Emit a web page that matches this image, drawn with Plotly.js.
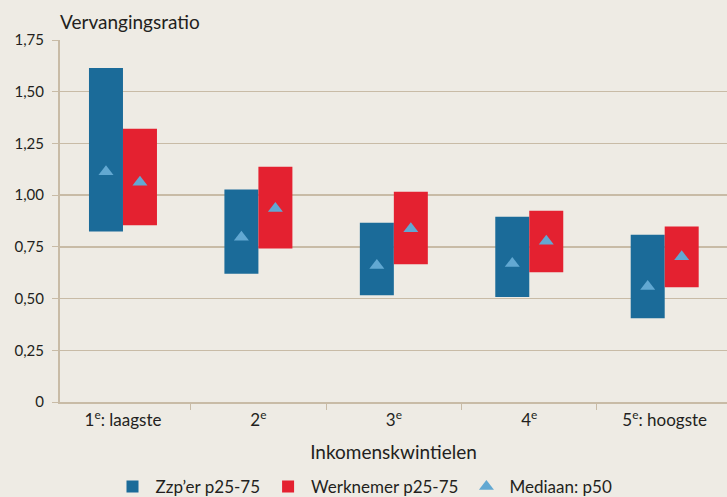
<!DOCTYPE html>
<html><head><meta charset="utf-8">
<script src="https://cdn.plot.ly/plotly-3.0.1.min.js"></script>
<style>html,body{margin:0;padding:0;background:#eeebe4;}</style>
</head><body>
<div id="chart" style="width:727px;height:497px;"></div>
<script>
const categories = ["1<sup>e</sup>: laagste", "2<sup>e</sup>", "3<sup>e</sup>", "4<sup>e</sup>", "5<sup>e</sup>: hoogste"];
const zzpP25 = [0.824, 0.62, 0.516, 0.507, 0.405];
const zzpP75 = [1.615, 1.027, 0.867, 0.896, 0.809];
const zzpP50 = [1.113, 0.796, 0.66, 0.669, 0.558];
const wnP25 = [0.854, 0.742, 0.666, 0.627, 0.555];
const wnP75 = [1.321, 1.137, 1.017, 0.925, 0.848];
const wnP50 = [1.062, 0.936, 0.838, 0.777, 0.702];
const yTickVals = [0, 0.25, 0.5, 0.75, 1, 1.25, 1.5, 1.75];
const yTickText = ["0", "0,25", "0,50", "0,75", "1,00", "1,25", "1,50", "1,75"];

const blue = "#1b6b99", red = "#e42130", tri = "#62a8d2";
const font = "Lato, 'Open Sans', sans-serif";

const traces = [
  {type: "bar", name: "Zzp’er p25-75", x: categories, base: zzpP25,
   y: zzpP75.map((v, i) => v - zzpP25[i]), marker: {color: blue}, offsetgroup: "a"},
  {type: "bar", name: "Werknemer p25-75", x: categories, base: wnP25,
   y: wnP75.map((v, i) => v - wnP25[i]), marker: {color: red}, offsetgroup: "b"},
  {type: "scatter", mode: "markers", name: "Mediaan: p50", x: categories, y: zzpP50,
   offsetgroup: "a", marker: {symbol: "triangle-up", size: 13, color: tri}},
  {type: "scatter", mode: "markers", name: "Mediaan: p50", x: categories, y: wnP50, showlegend: false,
   offsetgroup: "b", marker: {symbol: "triangle-up", size: 13, color: tri}}
];

const layout = {
  width: 727, height: 497,
  paper_bgcolor: "#eeebe4", plot_bgcolor: "#eeebe4",
  font: {family: font, size: 16, color: "#231f20"},
  margin: {l: 60, r: 0, t: 40, b: 95},
  barmode: "group", bargap: 0.498, bargroupgap: 0,
  scattermode: "group", scattergap: 0.498,
  showlegend: true,
  legend: {orientation: "h", x: 0.5, xanchor: "center", xref: "container",
           y: 0.02, yanchor: "middle", yref: "container",
           font: {size: 17}, traceorder: "normal", itemwidth: 36},
  xaxis: {type: "category", range: [-0.465, 4.46], tickson: "boundaries",
          ticks: "outside", ticklen: 6, tickcolor: "#c8bba6",
          showline: true, linecolor: "#c8bba6", linewidth: 2, showgrid: false,
          tickfont: {size: 17}, ticklabelstandoff: 2,
          title: {text: "Inkomenskwintielen", font: {size: 19}, standoff: 16}},
  yaxis: {range: [0, 1.75], tickvals: yTickVals, ticktext: yTickText,
          ticks: "outside", ticklen: 6, tickcolor: "#c8bba6",
          showline: true, linecolor: "#c8bba6", linewidth: 2,
          gridcolor: "#c8bba6", gridwidth: 1.5, zeroline: false,
          tickfont: {size: 15}, ticklabelstandoff: 5},
  annotations: [{text: "Vervangingsratio", xref: "paper", yref: "paper", x: 0, y: 1,
                 xanchor: "left", yanchor: "bottom", yshift: 5, xshift: -2, showarrow: false,
                 font: {size: 19}}]
};
Plotly.newPlot("chart", traces, layout, {staticPlot: true});
</script>
</body></html>
